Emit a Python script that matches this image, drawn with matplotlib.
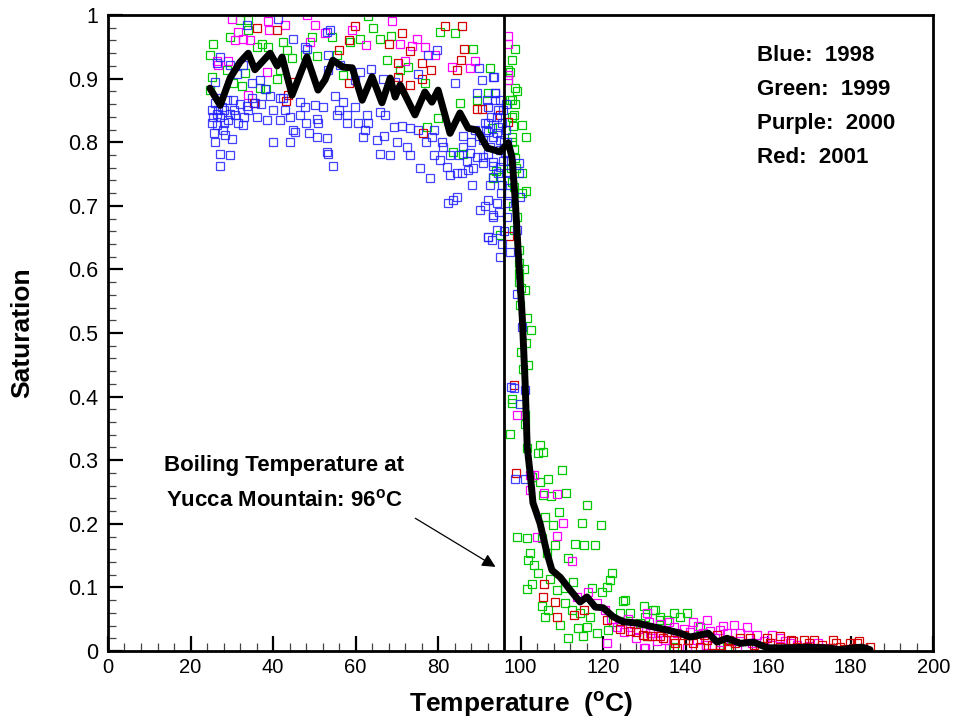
import numpy as np
import matplotlib
matplotlib.use("Agg")
import matplotlib.pyplot as plt
from matplotlib.ticker import MultipleLocator

plt.rcParams['font.family'] = ['Liberation Sans', 'DejaVu Sans']
plt.rcParams['mathtext.fontset'] = 'custom'
plt.rcParams['mathtext.rm'] = 'Liberation Sans'
plt.rcParams['mathtext.bf'] = 'Liberation Sans:bold'

# datos (temperatura, saturacion)
blue_pts = np.array([
    (25.9, .861), (26.7, .851), (25.5, .84), (27.1, .84), (26.3, .827), (28.8, .866), (30.4, .866),
    (29.6, .845), (30.8, .843), (28.4, .811), (30, .805), (32.8, .827), (27.1, .781), (29.6, .78),
    (27.1, .762), (25.9, .895), (27.1, .934), (26.3, .924), (29.6, .921), (31.2, .908), (32.8, .921),
    (34.8, .893), (36.9, .898), (38.1, .883), (39.3, .872), (41.7, .869), (38.5, .835), (34.8, .869),
    (33.6, .857), (35.6, .861), (44.9, .963), (47.8, .95), (53.8, .976), (53.4, .937), (53.4, .913),
    (56.2, .921), (61.1, .911), (63.8, .915), (59.9, .898), (66.7, .9), (69.6, .895), (75.2, .908),
    (77.6, .937), (79.7, .945), (84.1, .893), (89.8, .916), (90.6, .898), (93.4, .903), (46.5, .864),
    (47.8, .856), (50.2, .859), (52.2, .856), (55, .872), (57, .864), (59.9, .856), (62.7, .843),
    (65.9, .848), (67.1, .843), (69.2, .824), (71.2, .825), (73.2, .822), (75.2, .819), (44.9, .819),
    (45.3, .816), (48.6, .814), (50.6, .809), (53, .806), (53, .785), (53.4, .781), (54.6, .762),
    (41.7, .835), (44.1, .84), (46.5, .843), (50.6, .837), (55.4, .843), (57.9, .843), (60.7, .83),
    (62.3, .819), (61.9, .809), (65.1, .804), (65.9, .782), (68.3, .78), (72.4, .793), (73.2, .78),
    (75.6, .759), (78.1, .743), (78.9, .78), (80.5, .772), (82.1, .761), (82.9, .748), (84.5, .751),
    (85.7, .751), (87.3, .756), (88.2, .733), (83.7, .709), (82.5, .704), (84.5, .714), (90.2, .693),
    (93.4, .686), (92.2, .651), (93, .646), (78.5, .809), (81.3, .793), (86.1, .793), (87.8, .783),
    (89.4, .777), (91, .804), (89.4, .877), (91.8, .866), (93.9, .877), (95, .866), (94.2, .84),
    (92.2, .83), (94.2, .814), (92.6, .793), (95, .788), (91, .767), (93.4, .762), (94.6, .751),
    (41.3, .993), (53, .974), (48.2, .947), (33.6, .984), (93.6, .903), (93.8, .877), (93.8, .866),
    (92.2, .856), (91.4, .83), (92.2, .816), (93.4, .809), (94.6, .824), (95.8, .851), (95, .804),
    (91, .777), (92.2, .782), (93.4, .769), (95, .761), (96.2, .785), (96.6, .751), (95.4, .733),
    (92.6, .733), (93.4, .746), (99.5, .767), (99.5, .751), (99.9, .714), (92.2, .709), (94.2, .704),
    (91.4, .699), (93.4, .683), (96.6, .704), (96.6, .683), (94.2, .662), (92.2, .651), (95, .62),
    (97.5, .628), (99.1, .662), (99.1, .562), (100.3, .51), (98.3, .413), (101.1, .41), (97.6, .415),
    (98.7, .27), (101.1, .271), (99.9, .389), (96.5, .82), (96.8, .8), (97.2, .77), (96.9, .74),
    (97.3, .72), (96.4, .86),
    (25.2, .83), (25.6, .815), (26, .80), (26.4, .845), (27.6, .855), (28.2, .83), (28, .85),
    (25.3, .85), (26.8, .87), (27.8, .82), (29, .835), (30.6, .85), (31.5, .83), (32, .86),
    (33, .84), (34, .85), (36, .84), (37, .86), (40, .85), (43, .85), (42.5, .87),
    (86, .81), (88, .8), (89, .82), (90, .81), (91.5, .82), (92.8, .84), (94.5, .85), (95.5, .83),
    (96, .8), (95.8, .77), (95.2, .72), (94.8, .69), (96, .66), (95.5, .64), (88.5, .76), (87, .77),
    (85, .78), (83, .78), (81, .8), (79, .82), (77, .8), (70, .8), (67, .81), (63, .83), (58, .83),
    (56, .85), (51, .83), (48, .83), (44, .8), (40, .8),
])

green_pts = np.array([
    (25.5, .955), (24.7, .937), (25.1, .903), (24.7, .882), (32, .992), (34, .992), (34, .976),
    (29.6, .966), (37.3, .955), (38.9, .95), (36, .95), (32.4, .888), (30.4, .893), (36.9, .885),
    (38.3, .883), (40.9, .9), (42.5, .958), (43.3, .945), (44.5, .932), (47.8, .937), (50.6, .935),
    (49.4, .966), (54.2, .966), (55.4, .937), (58.7, .958), (61.1, .963), (63.1, .998), (64.3, .979),
    (65.9, .962), (68.5, .967), (67.7, .929), (72.6, .919), (70.8, .914), (76.8, .893), (80.5, .974),
    (84.1, .972), (88.4, .947), (92.6, .916), (92.2, .877), (80.1, .838), (77.2, .824), (85.3, .862),
    (89.4, .866), (93, .822), (83.7, .785), (86.1, .781), (95, .746), (93.4, .743), (33.2, .909),
    (28.8, .913), (41.7, .914), (57, .906),
    (98.7, .946), (98.7, .886), (100.3, .827), (101.3, .809), (98.3, .843), (97.9, .866), (98.1, .825),
    (98.3, .79), (98.7, .775), (100.3, .751), (101.3, .724), (100.3, .72), (97.9, .738), (99.1, .683),
    (98.3, .662), (99.5, .63), (99.5, .594), (99.7, .581), (101.1, .568), (99.9, .544), (101.5, .523),
    (102.5, .505), (101.3, .484), (100.5, .444), (97.9, .397), (94.1, .754), (95, .654), (97, .914),
    (97, .898), (97.5, .866), (97.9, .809),
    (98.2, .70), (98.5, .73), (97.6, .76), (99, .76), (98, .8), (97.8, .84), (98.6, .86), (99.2, .88),
    (97.4, .91), (98, .93), (99.7, .61), (100, .57), (100.8, .6), (100.2, .47), (101.8, .45),
    (98, .39), (101.1, .371), (101.1, .357), (97.5, .341), (101.5, .319), (104.7, .324), (105.5, .313),
    (104.3, .311), (110, .285), (102.7, .274), (104.7, .266), (106.7, .271), (111, .249), (107.4, .243),
    (105.5, .245), (116, .23), (109.3, .218), (105.9, .211), (107.8, .198), (114.8, .202), (119.4, .198),
    (99.1, .18), (101.5, .177), (105.1, .177), (108.4, .167), (113.2, .169), (115.4, .167), (118.1, .166),
    (102.3, .154), (106.3, .154), (101.9, .143), (111.6, .146), (103.3, .135), (104.1, .122), (102.7, .106),
    (101.5, .097), (107.2, .113), (112.8, .109), (108.8, .096), (110.8, .099), (122.1, .123), (121.7, .112),
    (120.9, .101), (117.2, .099), (119.7, .093), (125.3, .08), (124.9, .078), (105.1, .07), (106.7, .065),
    (105.9, .053), (109.6, .041), (110.8, .075), (112.4, .065), (114.4, .059), (116.9, .054), (116, .038),
    (114, .036), (111.6, .02), (115.2, .023), (118.5, .028), (121.3, .033), (122.5, .046), (124.1, .059),
    (126.5, .059), (129.8, .07), (132.2, .065), (133.8, .054), (137.1, .059), (129, .044),
    (132.6, .064), (140.3, .06), (133.8, .049), (130.6, .023), (137.1, .007), (143.5, .038), (145.1, .017),
    (150, .007), (130.2, .054), (135.4, .049), (138.7, .054),
])

purple_pts = np.array([
    (30, .993), (31.6, .974), (30.8, .961), (32.8, .962), (34.4, .961), (38.9, .99), (39.1, .977),
    (42.9, .984), (48.2, 1.0), (50.2, .985), (52.6, .971), (59.1, .977), (62.5, .953), (68.8, .991),
    (70.8, .955), (73.6, .951), (75, .962), (76.8, .95), (79.3, .937), (83.3, .918), (87.8, .917),
    (89, .928), (29.2, .927), (26.3, .927), (26.7, .921), (34, .874), (38.5, .911), (49, .958),
    (72, .927), (97, .967), (97, .955), (97, .905), (97, .898),
    (99.1, .371), (102.3, .277), (103.3, .277), (102.3, .253), (105.7, .248), (108.8, .247),
    (110.2, .201), (108.8, .181), (103.9, .179), (112.4, .142), (116.4, .092), (113.6, .085),
    (118.5, .075), (120.5, .065), (123.3, .038), (126.5, .038), (130.6, .059), (131.4, .028),
    (120.9, .012), (130.2, .004), (135, .017),
    (133.8, .043), (137.1, .038), (141.9, .046), (145.1, .049), (148.4, .033), (151.6, .041),
    (154.8, .038), (157.2, .025), (160.9, .025), (162.9, .02), (153.2, .028), (150, .028),
    (129.8, .004), (140.3, .004), (148.4, .002), (152.4, .004), (158.1, .007), (165.3, .012),
    (144.3, .028), (142.7, .017), (132.2, .033),
    (122, .05), (124, .045), (126, .05), (127.5, .042), (128.5, .035), (131, .045), (134, .03),
    (136, .045), (138, .028), (139.5, .035), (141, .03), (143, .04), (146, .032), (147, .02),
    (149, .04), (151, .015), (155, .025), (156, .012), (159, .015), (161, .01), (164, .015),
    (167, .01), (170, .008), (172, .012), (175, .005), (128, .02), (133, .015), (145, .01),
    (136, .005), (125, .03),
])

red_pts = np.array([
    (36, .979), (40.9, .977), (59.9, .982), (58.3, .961), (56.1, .945), (68.2, .955), (71.2, .972),
    (73.1, .944), (81.7, .983), (85.7, .983), (86.3, .947), (85.5, .93), (76, .924), (78.2, .914),
    (70.4, .925), (70.4, .903), (73.2, .89), (76, .9), (58.5, .893), (44.9, .895), (43.7, .874),
    (43.1, .865), (35.4, .861), (84.5, .914), (89.4, .853), (90.6, .853), (76.4, .815), (95, .843),
    (97, .832), (97.3, .652),
    (98.3, .418), (98.9, .28), (105.7, .105), (105.4, .085), (108.4, .077), (108.9, .053),
    (113, .057), (115.4, .065), (120.9, .049), (126.4, .031), (129.6, .025), (131.8, .023),
    (133.8, .023), (137.5, .012),
    (130.6, .023), (134.6, .02), (137.1, .017), (139.5, .025), (141.9, .012), (145.1, .017),
    (147.6, .025), (150.4, .017), (153.2, .02), (155.6, .02), (159.7, .02), (162.9, .023),
    (166.1, .015), (168.6, .017), (171, .017), (169.4, .007), (172.6, .004), (175.8, .017),
    (177.5, .007), (179.9, .012), (181.5, .012), (184.7, .007), (167, .007), (162.9, .007),
    (174.2, .002), (148.4, .01), (143.5, .007),
    (150.5, .003), (152, .012), (156.5, .01), (158, .004), (160.5, .012), (164, .003), (165.5, .018),
    (170, .012), (173, .01), (176.5, .012), (178.5, .003), (180.5, .005), (183, .003), (182, .015),
    (138, .004), (140.5, .018), (144.5, .025), (146.5, .01), (128, .03), (124, .035), (135.5, .03),
])

# curva promedio
line_x = [24.7, 27.2, 29.6, 32, 34, 35.6, 39.3, 41, 42.2, 44.6, 48.2, 50.9, 52.6, 54.5, 57, 59.2,
          61.6, 64, 66.4, 68.4, 69.6, 70.8, 74.4, 76.8, 78.5, 80, 82.9, 85.3, 87.3, 89.5, 91.9, 95,
          97, 97.9, 98.7, 99.4, 100.4, 101.1, 101.6, 102.3, 103, 104.7, 106.4, 107.6, 109.6, 112,
          114.4, 116.1, 118.1, 120, 122.4, 124.8, 128.2, 132.1, 135.5, 138.7, 141, 143.5, 145.5,
          147.6, 150, 153.2, 156.4, 159.8, 165.3, 169.5, 174.3, 177.5, 180.6, 182.8, 184.7]
line_y = [.885, .858, .901, .926, .94, .914, .94, .92, .934, .874, .934, .882, .898, .929, .918, .917,
          .866, .903, .862, .901, .871, .89, .843, .879, .863, .882, .814, .846, .822, .819, .791, .785,
          .799, .777, .709, .63, .525, .421, .321, .28, .233, .201, .154, .127, .116, .096,
          .077, .085, .069, .068, .054, .046, .044, .038, .033, .028, .022, .025, .028,
          .014, .02, .012, .014, .005, .005, .006, .005, .002, .005, .006, .002]

boiling_t = 96
legend_lines = ['Blue:  1998', 'Green:  1999', 'Purple:  2000', 'Red:  2001']

fig = plt.figure(figsize=(9.54, 7.23), dpi=100)
ax = fig.add_axes([0.1132, 0.0996, 0.865, 0.8796])

mk = dict(marker='s', ls='none', ms=6, mew=0.9, mfc='none')
ax.plot(green_pts[:, 0], green_pts[:, 1], mec='#00c800', **mk)
ax.plot(purple_pts[:, 0], purple_pts[:, 1], mec='#ff00ff', **mk)
ax.plot(red_pts[:, 0], red_pts[:, 1], mec='#d40000', **mk)
ax.plot(blue_pts[:, 0], blue_pts[:, 1], mec='#2020ff', alpha=0.85, **mk)

ax.plot(line_x, line_y, color='k', lw=5, solid_joinstyle='round', solid_capstyle='round', zorder=5)
ax.axvline(boiling_t, color='k', lw=2, zorder=6)

ax.set_xlim(0, 200)
ax.set_ylim(0, 1)
ax.xaxis.set_major_locator(MultipleLocator(20))
ax.xaxis.set_minor_locator(MultipleLocator(4))
ax.yaxis.set_major_locator(MultipleLocator(0.1))
ax.yaxis.set_minor_locator(MultipleLocator(0.02))
ax.set_yticks(np.arange(0, 1.01, 0.1))
ax.set_yticklabels(['0', '0.1', '0.2', '0.3', '0.4', '0.5', '0.6', '0.7', '0.8', '0.9', '1'])
ax.tick_params(which='major', direction='in', length=11, width=1.6, top=False, right=False)
ax.tick_params(which='minor', direction='in', length=6, width=0.9, color='#444444', top=False, right=False)
ax.tick_params(axis='x', labelsize=14.5, pad=5)
ax.tick_params(axis='y', labelsize=15.5, pad=7)
for s in ax.spines.values():
    s.set_linewidth(2)

ax.set_xlabel('Temperature  ($^{\\mathbf{o}}$C)', fontsize=19, fontweight='bold')
ax.xaxis.label.set_va('center')
ax.xaxis.set_label_coords(0.5, -0.083)
ax.set_ylabel('Saturation', fontsize=19, fontweight='bold')
ax.yaxis.label.set_va('center')
ax.yaxis.set_label_coords(-0.1036, 0.5)

for i, t in enumerate(legend_lines):
    ax.text(157.3, 0.937 - i * 0.0535, t, fontsize=16, fontweight='bold', va='center', ha='left')

ax.text(42.7, 0.292, 'Boiling Temperature at', fontsize=16, fontweight='bold', ha='center', va='center')
ax.text(42.7, 0.237, 'Yucca Mountain: 96$^{\\mathbf{o}}$C', fontsize=16, fontweight='bold', ha='center', va='center')
ax.annotate('', xy=(94.5, 0.13), xytext=(73.9, 0.211),
            arrowprops=dict(arrowstyle='-|>', color='k', lw=0.9, mutation_scale=20))

fig.savefig('out.png', dpi=100)
